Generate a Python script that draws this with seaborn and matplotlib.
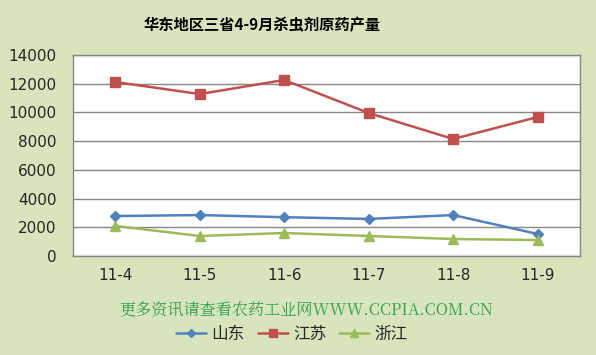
import matplotlib
matplotlib.use("Agg")
import matplotlib.pyplot as plt
import seaborn as sns
import pandas as pd
from matplotlib.lines import Line2D

months = ["11-4", "11-5", "11-6", "11-7", "11-8", "11-9"]
shandong = [2780, 2850, 2700, 2580, 2850, 1530]
jiangsu = [12120, 11280, 12260, 9960, 8150, 9680]
zhejiang = [2090, 1390, 1600, 1390, 1180, 1110]
series_names = ["山东", "江苏", "浙江"]
yticks = [0, 2000, 4000, 6000, 8000, 10000, 12000, 14000]

sns.set_theme(style="white")
plt.rcParams['font.family'] = ['Noto Sans CJK SC', 'DejaVu Sans']

rows = []
for name, vals in zip(series_names, [shandong, jiangsu, zhejiang]):
    for i, (m, v) in enumerate(zip(months, vals)):
        rows.append({"month": m, "idx": i, "series": name, "value": v})
df = pd.DataFrame(rows)

bg = "#D8E4BC"
colors = {"山东": "#4F81BD", "江苏": "#C0504D", "浙江": "#9BBB59"}
markers = {"山东": "D", "江苏": "s", "浙江": "^"}
msize = {"山东": 5, "江苏": 7, "浙江": 7}

fig = plt.figure(figsize=(5.96, 3.55), dpi=100, facecolor=bg)
ax = fig.add_axes([0.1225, 0.279, 0.8505, 0.566])
ax.set_facecolor("white")

sns.lineplot(data=df, x="idx", y="value", hue="series", palette=colors,
             ax=ax, legend=False, linewidth=1.8)
for name in series_names:
    sub = df[df.series == name]
    ax.plot(sub["idx"], sub["value"], linestyle="none", marker=markers[name],
            markersize=msize[name], color=colors[name], zorder=5)

ax.set_xlim(-0.5, len(months) - 0.5)
ax.set_ylim(0, 14000)
ax.set_yticks(yticks)
ax.set_yticklabels([str(t) for t in yticks], fontsize=11, family=['DejaVu Sans'])
ax.set_xticks(range(len(months)))
ax.set_xticklabels(months, fontsize=11, family=['DejaVu Sans'])
ax.tick_params(axis='x', length=0, pad=9)
ax.tick_params(axis='y', length=0, pad=12)
ax.set_xlabel("")
ax.set_ylabel("")
ax.yaxis.grid(True, color="#868686", linewidth=1)
ax.set_axisbelow(True)
for s in ax.spines.values():
    s.set_color("#868686")
    s.set_linewidth(1)

fig.text(0.44, 0.93, "华东地区三省4-9月杀虫剂原药产量", ha="center", va="center",
         fontsize=11, fontweight="bold", color="black")
fig.text(0.2, 0.127, "更多资讯请查看农药工业网WWW.CCPIA.COM.CN", ha="left", va="center",
         fontsize=11.6, color="#2EA04A", family=['Noto Serif CJK SC', 'Noto Sans CJK SC', 'DejaVu Serif'])

handles = [Line2D([0], [0], color=colors[n], marker=markers[n], markersize=msize[n] - 1,
                  linewidth=1.8) for n in series_names]
fig.legend(handles, series_names, loc="center", bbox_to_anchor=(0.49, 0.058), ncol=3,
           frameon=False, fontsize=12, handlelength=1.8, columnspacing=0.8,
           handletextpad=0.3)

fig.savefig("out.png", dpi=100, facecolor=bg)
